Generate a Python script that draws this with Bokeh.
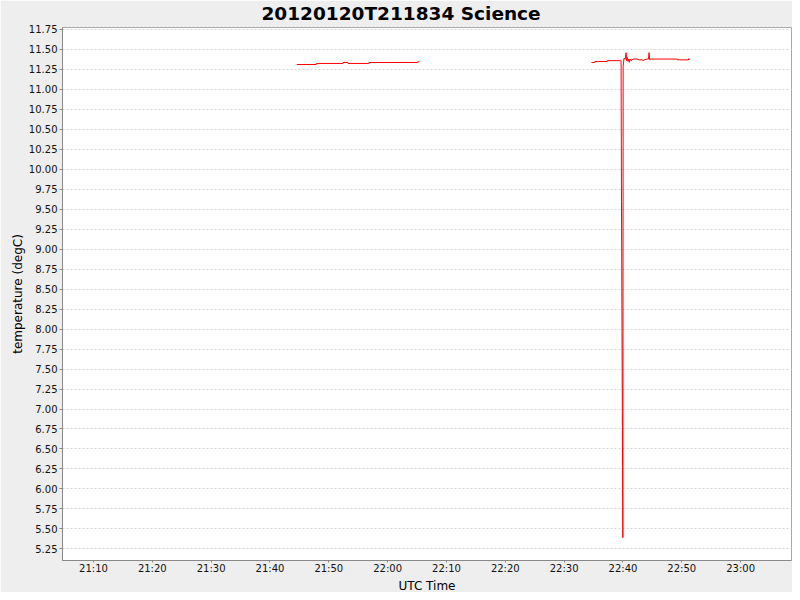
from datetime import datetime
from bokeh.plotting import figure
from bokeh.models import (ColumnDataSource, FixedTicker, DatetimeTickFormatter,
                          NumeralTickFormatter, Range1d, Title)
from bokeh.embed import file_html
from bokeh.resources import INLINE

DATE = "2012-01-20"
TITLE = "20120120T211834 Science"
X_LABEL = "UTC Time"
Y_LABEL = "temperature (degC)"

# Segment 1 (first science leg)
seg1_times = ["21:44:33", "21:47:53", "21:47:54", "21:52:24", "21:52:25", "21:53:15",
              "21:53:16", "21:56:48", "21:56:49", "22:05:07", "22:05:08", "22:05:22"]
seg1_temps = [11.312, 11.312, 11.325, 11.325, 11.337, 11.337,
              11.325, 11.325, 11.337, 11.337, 11.346, 11.346]

# Segment 2 (second science leg with the dropout spike)
seg2_times = ["22:34:39", "22:35:12", "22:35:13", "22:37:21", "22:37:22", "22:39:34",
              "22:39:41", "22:39:45", "22:39:59", "22:40:02", "22:40:11", "22:40:22",
              "22:40:32", "22:40:36", "22:40:45", "22:40:52", "22:40:59", "22:41:06",
              "22:41:12", "22:41:23", "22:41:33", "22:41:43", "22:42:24", "22:42:44",
              "22:43:15", "22:43:25", "22:43:36", "22:44:06", "22:44:21", "22:44:26",
              "22:44:33", "22:44:43", "22:49:16", "22:49:17", "22:51:08", "22:51:10",
              "22:51:12", "22:51:20"]
seg2_temps = [11.337, 11.337, 11.350, 11.350, 11.360, 11.360,
              11.360, 9.60, 5.39, 11.29, 11.39, 11.38,
              11.46, 11.36, 11.40, 11.35, 11.38, 11.34,
              11.38, 11.36, 11.37, 11.38, 11.38, 11.37,
              11.37, 11.36, 11.37, 11.38, 11.38, 11.46,
              11.37, 11.38, 11.38, 11.37, 11.37, 11.385,
              11.375, 11.375]

x_tick_labels = ["21:10", "21:20", "21:30", "21:40", "21:50", "22:00", "22:10", "22:20",
                 "22:30", "22:40", "22:50", "23:00"]
y_ticks = [5.25, 5.50, 5.75, 6.00, 6.25, 6.50, 6.75, 7.00, 7.25, 7.50, 7.75, 8.00, 8.25,
           8.50, 8.75, 9.00, 9.25, 9.50, 9.75, 10.00, 10.25, 10.50, 10.75, 11.00, 11.25,
           11.50, 11.75]

x_start, x_end = "21:04:44", "23:08:39"
y_start, y_end = 5.104, 11.775


def to_ms(t):
    fmt = "%Y-%m-%d %H:%M:%S" if t.count(":") == 2 else "%Y-%m-%d %H:%M"
    d = datetime.strptime(DATE + " " + t, fmt)
    return (d - datetime(1970, 1, 1)).total_seconds() * 1000.0


xs = [to_ms(t) for t in seg1_times] + [float("nan")] + [to_ms(t) for t in seg2_times]
ys = seg1_temps + [float("nan")] + seg2_temps
src = ColumnDataSource(dict(x=xs, y=ys))

W, H = 792, 592
BL, BR, BT, BB = 62, 1, 26, 32

p = figure(width=W, height=H, output_backend="svg", toolbar_location=None,
           x_range=Range1d(to_ms(x_start), to_ms(x_end)), y_range=Range1d(y_start, y_end),
           min_border_left=BL, min_border_right=BR, min_border_top=BT, min_border_bottom=BB)

p.line("x", "y", source=src, color="#ff0000", line_width=1)

p.background_fill_color = "white"
p.border_fill_color = "#eeeeee"
p.outline_line_color = "#aaaaaa"

p.title.text = TITLE
p.title.align = "left"
p.title.vertical_align = "top"
p.title.text_font = "DejaVu Sans"
p.title.text_font_style = "bold"
p.title.text_font_size = "18.5px"
p.title.text_color = "black"
p.title.standoff = 4
p.title.offset = 199

p.xaxis.ticker = FixedTicker(ticks=[to_ms(t) for t in x_tick_labels])
p.xaxis.formatter = DatetimeTickFormatter(minutes="%H:%M", hours="%H:%M", minsec="%H:%M")
p.yaxis.ticker = FixedTicker(ticks=y_ticks)
p.yaxis.formatter = NumeralTickFormatter(format="0.00")

p.yaxis.axis_label = Y_LABEL

for ax in (p.xaxis, p.yaxis):
    ax.axis_label_text_font = "DejaVu Sans"
    ax.axis_label_text_font_size = "12px"
    ax.axis_label_text_font_style = "normal"
    ax.axis_label_text_color = "black"
    ax.major_label_text_font = "DejaVu Sans"
    ax.major_label_text_font_size = "10px"
    ax.major_label_text_color = "#111111"
    ax.axis_line_color = "#888888"
    ax.major_tick_line_color = "#888888"
    ax.major_tick_out = 3
    ax.major_tick_in = 0
    ax.minor_tick_line_color = None
    ax.major_label_standoff = 2
    ax.axis_label_standoff = 1

p.xaxis.major_tick_out = 2
p.xaxis.major_label_standoff = 0

xtitle = Title(text=X_LABEL, align="center", standoff=0, text_font="DejaVu Sans",
               text_font_size="12px", text_font_style="normal", text_color="black")
p.add_layout(xtitle, "below")

p.xgrid.grid_line_color = None
p.ygrid.grid_line_color = "#d4d4d4"
p.ygrid.grid_line_dash = "2 2"
p.ygrid.grid_line_width = 1

open("out.html", "w").write(file_html(p, INLINE))
